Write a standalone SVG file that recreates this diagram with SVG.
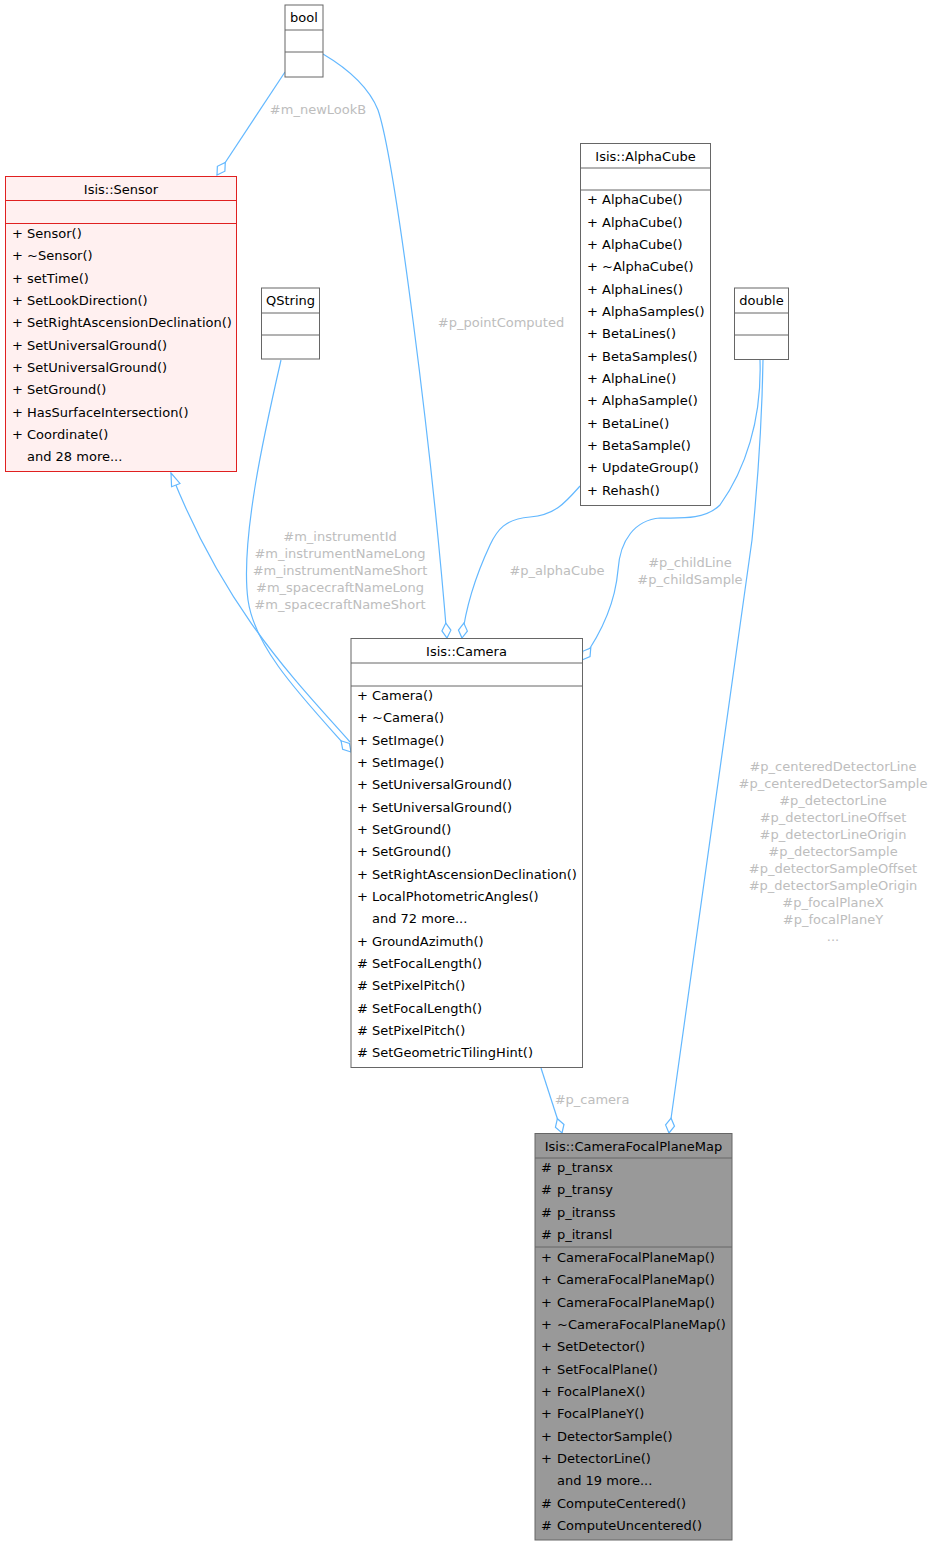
<svg xmlns="http://www.w3.org/2000/svg" width="932" height="1546" viewBox="0 0 932 1546">
<style>
text{font-family:"DejaVu Sans","Liberation Sans",sans-serif;font-size:13px;fill:#000}
.c{text-anchor:middle}
.lbl{fill:#bdbdbd;text-anchor:middle}
.box{fill:#fff;stroke:#666;stroke-width:1}
.sep{stroke:#666;stroke-width:1}
.red{fill:#fff0f0;stroke:#e02020;stroke-width:1}
.rsep{stroke:#e02020;stroke-width:1}
.gray{fill:#999;stroke:#666;stroke-width:1}
.e{fill:none;stroke:#63b8ff;stroke-width:1.2}
</style>
<defs>
<marker id="dia" markerUnits="userSpaceOnUse" orient="auto" refX="0" refY="0" overflow="visible" markerWidth="16" markerHeight="10">
<path d="M0,0 L-7.5,-4.5 L-15,0 L-7.5,4.5 Z" fill="#fff" stroke="#63b8ff" stroke-width="1.2"/>
</marker>
<marker id="tri" markerUnits="userSpaceOnUse" orient="auto" refX="0" refY="0" overflow="visible" markerWidth="14" markerHeight="10">
<path d="M0,0 L-13,-4.5 L-13,4.5 Z" fill="#fff" stroke="#63b8ff" stroke-width="1.2"/>
</marker>
</defs>
<g id="edges">
<path class="e" d="M285,72 L217,175" marker-end="url(#dia)"/>
<text class="lbl" x="318" y="114">#m_newLookB</text>
<path class="e" d="M350,742 C295,680 225,610 171,473" marker-end="url(#tri)"/>
<path class="e" d="M281,360 C265,430 240,540 248,600 C255,650 305,700 351,752" marker-end="url(#dia)"/>
<text class="lbl" x="340" y="541">#m_instrumentId</text>
<text class="lbl" x="340" y="558">#m_instrumentNameLong</text>
<text class="lbl" x="340" y="575">#m_instrumentNameShort</text>
<text class="lbl" x="340" y="592">#m_spacecraftNameLong</text>
<text class="lbl" x="340" y="609">#m_spacecraftNameShort</text>
<path class="e" d="M323,54 C350,70 370,90 378,110 C395,160 432,450 447,638" marker-end="url(#dia)"/>
<text class="lbl" x="501" y="327">#p_pointComputed</text>
<path class="e" d="M580,486 C565,503 555,515 530,517 C505,519 497,530 490,545 C476,575 466,605 462,638" marker-end="url(#dia)"/>
<text class="lbl" x="557" y="575">#p_alphaCube</text>
<path class="e" d="M760,360 C762,420 745,470 720,505 C705,520 680,518 660,518 C635,520 620,540 618,570 C615,605 600,635 582,660" marker-end="url(#dia)"/>
<text class="lbl" x="690" y="567">#p_childLine</text>
<text class="lbl" x="690" y="584">#p_childSample</text>
<path class="e" d="M763,360 C762,420 758,480 752,540 L669,1133" marker-end="url(#dia)"/>
<text class="lbl" x="833" y="771">#p_centeredDetectorLine</text>
<text class="lbl" x="833" y="788">#p_centeredDetectorSample</text>
<text class="lbl" x="833" y="805">#p_detectorLine</text>
<text class="lbl" x="833" y="822">#p_detectorLineOffset</text>
<text class="lbl" x="833" y="839">#p_detectorLineOrigin</text>
<text class="lbl" x="833" y="856">#p_detectorSample</text>
<text class="lbl" x="833" y="873">#p_detectorSampleOffset</text>
<text class="lbl" x="833" y="890">#p_detectorSampleOrigin</text>
<text class="lbl" x="833" y="907">#p_focalPlaneX</text>
<text class="lbl" x="833" y="924">#p_focalPlaneY</text>
<text class="lbl" x="833" y="941">...</text>
<path class="e" d="M541,1068 L562,1133" marker-end="url(#dia)"/>
<text class="lbl" x="592" y="1104">#p_camera</text>
</g>
<g id="bool">
<rect class="box" x="285" y="5" width="38" height="72"/>
<line class="sep" x1="285" y1="30" x2="323" y2="30"/>
<line class="sep" x1="285" y1="52" x2="323" y2="52"/>
<text class="c" x="304" y="22">bool</text>
</g>
<g id="sensor">
<rect class="red" x="5.5" y="176.5" width="231" height="295"/>
<line class="rsep" x1="5.5" y1="200.5" x2="236.5" y2="200.5"/>
<line class="rsep" x1="5.5" y1="223.5" x2="236.5" y2="223.5"/>
<text class="c" x="121" y="194">Isis::Sensor</text>
<text x="12" y="238">+</text><text x="27" y="238">Sensor()</text>
<text x="12" y="260.3">+</text><text x="27" y="260.3">~Sensor()</text>
<text x="12" y="282.7">+</text><text x="27" y="282.7">setTime()</text>
<text x="12" y="305">+</text><text x="27" y="305">SetLookDirection()</text>
<text x="12" y="327.3">+</text><text x="27" y="327.3">SetRightAscensionDeclination()</text>
<text x="12" y="349.7">+</text><text x="27" y="349.7">SetUniversalGround()</text>
<text x="12" y="372">+</text><text x="27" y="372">SetUniversalGround()</text>
<text x="12" y="394.3">+</text><text x="27" y="394.3">SetGround()</text>
<text x="12" y="416.7">+</text><text x="27" y="416.7">HasSurfaceIntersection()</text>
<text x="12" y="439">+</text><text x="27" y="439">Coordinate()</text>
<text x="27" y="461.3">and 28 more...</text>
</g>
<g id="qstring">
<rect class="box" x="261.5" y="288" width="58" height="71"/>
<line class="sep" x1="261.5" y1="313" x2="319.5" y2="313"/>
<line class="sep" x1="261.5" y1="335" x2="319.5" y2="335"/>
<text class="c" x="290.5" y="305">QString</text>
</g>
<g id="alphacube">
<rect class="box" x="580.5" y="143.5" width="130" height="362"/>
<line class="sep" x1="580.5" y1="168" x2="710.5" y2="168"/>
<line class="sep" x1="580.5" y1="190" x2="710.5" y2="190"/>
<text class="c" x="645.5" y="160.5">Isis::AlphaCube</text>
<text x="587" y="204.3">+</text><text x="602" y="204.3">AlphaCube()</text>
<text x="587" y="226.6">+</text><text x="602" y="226.6">AlphaCube()</text>
<text x="587" y="249">+</text><text x="602" y="249">AlphaCube()</text>
<text x="587" y="271.3">+</text><text x="602" y="271.3">~AlphaCube()</text>
<text x="587" y="293.6">+</text><text x="602" y="293.6">AlphaLines()</text>
<text x="587" y="316">+</text><text x="602" y="316">AlphaSamples()</text>
<text x="587" y="338.3">+</text><text x="602" y="338.3">BetaLines()</text>
<text x="587" y="360.6">+</text><text x="602" y="360.6">BetaSamples()</text>
<text x="587" y="383">+</text><text x="602" y="383">AlphaLine()</text>
<text x="587" y="405.3">+</text><text x="602" y="405.3">AlphaSample()</text>
<text x="587" y="427.6">+</text><text x="602" y="427.6">BetaLine()</text>
<text x="587" y="450">+</text><text x="602" y="450">BetaSample()</text>
<text x="587" y="472.3">+</text><text x="602" y="472.3">UpdateGroup()</text>
<text x="587" y="494.6">+</text><text x="602" y="494.6">Rehash()</text>
</g>
<g id="double">
<rect class="box" x="734.5" y="288" width="54" height="71.5"/>
<line class="sep" x1="734.5" y1="313" x2="788.5" y2="313"/>
<line class="sep" x1="734.5" y1="335" x2="788.5" y2="335"/>
<text class="c" x="761.5" y="305">double</text>
</g>
<g id="camera">
<rect class="box" x="351" y="638.5" width="231.5" height="429"/>
<line class="sep" x1="351" y1="663" x2="582.5" y2="663"/>
<line class="sep" x1="351" y1="686" x2="582.5" y2="686"/>
<text class="c" x="466.5" y="655.5">Isis::Camera</text>
<text x="357" y="700">+</text><text x="372" y="700">Camera()</text>
<text x="357" y="722.3">+</text><text x="372" y="722.3">~Camera()</text>
<text x="357" y="744.7">+</text><text x="372" y="744.7">SetImage()</text>
<text x="357" y="767">+</text><text x="372" y="767">SetImage()</text>
<text x="357" y="789.3">+</text><text x="372" y="789.3">SetUniversalGround()</text>
<text x="357" y="811.7">+</text><text x="372" y="811.7">SetUniversalGround()</text>
<text x="357" y="834">+</text><text x="372" y="834">SetGround()</text>
<text x="357" y="856.3">+</text><text x="372" y="856.3">SetGround()</text>
<text x="357" y="878.7">+</text><text x="372" y="878.7">SetRightAscensionDeclination()</text>
<text x="357" y="901">+</text><text x="372" y="901">LocalPhotometricAngles()</text>
<text x="372" y="923.3">and 72 more...</text>
<text x="357" y="945.7">+</text><text x="372" y="945.7">GroundAzimuth()</text>
<text x="357" y="968">#</text><text x="372" y="968">SetFocalLength()</text>
<text x="357" y="990.3">#</text><text x="372" y="990.3">SetPixelPitch()</text>
<text x="357" y="1012.7">#</text><text x="372" y="1012.7">SetFocalLength()</text>
<text x="357" y="1035">#</text><text x="372" y="1035">SetPixelPitch()</text>
<text x="357" y="1057.3">#</text><text x="372" y="1057.3">SetGeometricTilingHint()</text>
</g>
<g id="focalplanemap">
<rect class="gray" x="535" y="1133.5" width="197" height="406.5"/>
<line class="sep" x1="535" y1="1158" x2="732" y2="1158"/>
<line class="sep" x1="535" y1="1247" x2="732" y2="1247"/>
<text class="c" x="633.5" y="1150.5">Isis::CameraFocalPlaneMap</text>
<text x="541" y="1172">#</text><text x="557" y="1172">p_transx</text>
<text x="541" y="1194.3">#</text><text x="557" y="1194.3">p_transy</text>
<text x="541" y="1216.7">#</text><text x="557" y="1216.7">p_itranss</text>
<text x="541" y="1239">#</text><text x="557" y="1239">p_itransl</text>
<text x="541" y="1262">+</text><text x="557" y="1262">CameraFocalPlaneMap()</text>
<text x="541" y="1284.3">+</text><text x="557" y="1284.3">CameraFocalPlaneMap()</text>
<text x="541" y="1306.7">+</text><text x="557" y="1306.7">CameraFocalPlaneMap()</text>
<text x="541" y="1329">+</text><text x="557" y="1329">~CameraFocalPlaneMap()</text>
<text x="541" y="1351.3">+</text><text x="557" y="1351.3">SetDetector()</text>
<text x="541" y="1373.7">+</text><text x="557" y="1373.7">SetFocalPlane()</text>
<text x="541" y="1396">+</text><text x="557" y="1396">FocalPlaneX()</text>
<text x="541" y="1418.3">+</text><text x="557" y="1418.3">FocalPlaneY()</text>
<text x="541" y="1440.7">+</text><text x="557" y="1440.7">DetectorSample()</text>
<text x="541" y="1463">+</text><text x="557" y="1463">DetectorLine()</text>
<text x="557" y="1485.3">and 19 more...</text>
<text x="541" y="1507.7">#</text><text x="557" y="1507.7">ComputeCentered()</text>
<text x="541" y="1530">#</text><text x="557" y="1530">ComputeUncentered()</text>
</g>
</svg>
